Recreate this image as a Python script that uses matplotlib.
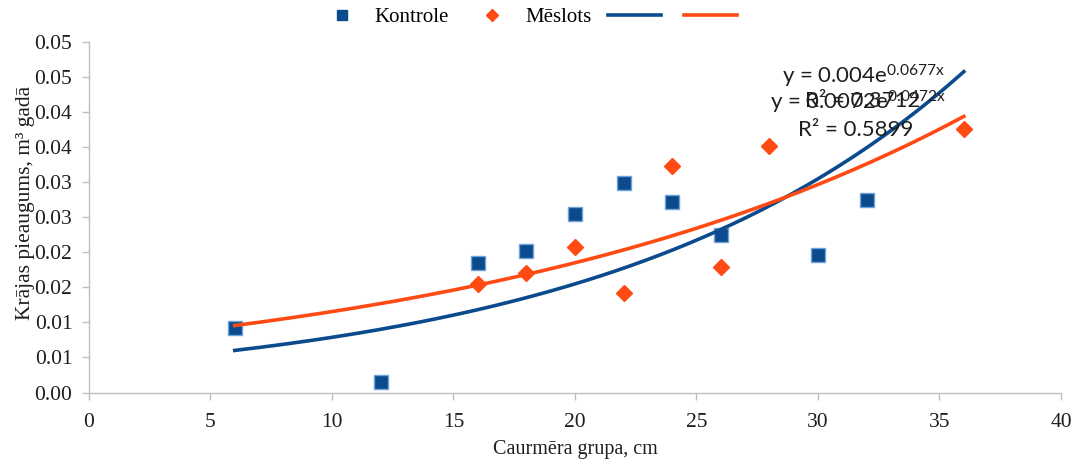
import numpy as np
import matplotlib
matplotlib.use("Agg")
import matplotlib.pyplot as plt
from matplotlib.lines import Line2D

# data
kontrole_x = [6, 12, 16, 18, 20, 22, 24, 26, 30, 32]
kontrole_y = [0.0092, 0.0015, 0.0185, 0.0202, 0.0254, 0.0299, 0.0272, 0.0224, 0.0196, 0.0274]
meslots_x = [16, 18, 20, 22, 24, 26, 28, 36]
meslots_y = [0.0155, 0.0170, 0.0207, 0.0142, 0.0323, 0.0179, 0.0352, 0.0376]

# exponential trendlines y = a * exp(b * x)
trend_kontrole = (0.004, 0.0677)
trend_meslots = (0.0072, 0.0472)
trend_range = (6, 36)

x_ticks = [0, 5, 10, 15, 20, 25, 30, 35, 40]
y_ticks = [0.0, 0.005, 0.01, 0.015, 0.02, 0.025, 0.03, 0.035, 0.04, 0.045, 0.05]
y_tick_labels = ["0.00", "0.01", "0.01", "0.02", "0.02", "0.03",
                 "0.03", "0.04", "0.04", "0.05", "0.05"]

blue = "#0B4A8C"
blue_edge = "#6FA3DA"
red = "#FF4A14"
axis_grey = "#BFBFBF"
text_col = "#1E1E1E"
serif = "Liberation Serif"
sans = "Lato"

plt.rcParams["mathtext.default"] = "regular"

fig = plt.figure(figsize=(10.8, 4.66), dpi=100)
ax = fig.add_axes([0.0824, 0.1577, 0.9, 0.7522])

ax.plot(kontrole_x, kontrole_y, linestyle="none", marker="s", markersize=9.5,
        markerfacecolor=blue, markeredgecolor=blue_edge, markeredgewidth=1.0, zorder=3)
ax.plot(meslots_x, meslots_y, linestyle="none", marker="D", markersize=8,
        markerfacecolor=red, markeredgecolor=red, zorder=3)

xs = np.linspace(trend_range[0], trend_range[1], 200)
a, b = trend_kontrole
ax.plot(xs, a * np.exp(b * xs), color=blue, linewidth=2.6, zorder=4)
a, b = trend_meslots
ax.plot(xs, a * np.exp(b * xs), color=red, linewidth=2.6, zorder=4)

# trendline equations (they overlap in the original too)
eq_kw = dict(fontsize=16, family=sans, color=text_col, va="center", ha="left", zorder=5)
ax.text(28.52, 0.0451, "y = 0.004e$^{0.0677x}$", **eq_kw)
ax.text(29.47, 0.0416, "R² = 0.3712", **eq_kw)
ax.text(28.02, 0.0414, "y = 0.0072e$^{0.0472x}$", **eq_kw)
ax.text(29.18, 0.0375, "R² = 0.5899", **eq_kw)

ax.set_xlim(0, 40)
ax.set_ylim(0, 0.05)
ax.set_xticks(x_ticks)
ax.set_xticklabels([str(t) for t in x_ticks], family=serif, fontsize=15.5, color=text_col)
ax.set_yticks(y_ticks)
ax.set_yticklabels(y_tick_labels, family=serif, fontsize=15.5, color=text_col)
ax.tick_params(axis="both", direction="out", length=5, color=axis_grey, width=1)
ax.tick_params(axis="x", pad=10)
ax.tick_params(axis="y", pad=7)

for side in ["top", "right"]:
    ax.spines[side].set_visible(False)
for side in ["left", "bottom"]:
    ax.spines[side].set_color(axis_grey)
    ax.spines[side].set_linewidth(1)

ax.set_xlabel("Caurmēra grupa, cm", family=serif, fontsize=14.5, color=text_col)
ax.xaxis.set_label_coords(0.5, -0.136)
ax.set_ylabel("Krājas pieaugums, m³ gadā", family=serif, fontsize=15.5, color=text_col)
ax.yaxis.set_label_coords(-0.056, 0.54)

handles = [
    Line2D([], [], linestyle="none", marker="s", markersize=7.5, markerfacecolor=blue,
           markeredgecolor=blue),
    Line2D([], [], linestyle="none", marker="D", markersize=6.5, markerfacecolor=red,
           markeredgecolor=red),
    Line2D([], [], color=blue, linewidth=2.6),
    Line2D([], [], color=red, linewidth=2.6),
]
fig.legend(handles, ["Kontrole", "Mēslots", "", ""], loc="center",
           bbox_to_anchor=(0.49, 0.962), ncol=4, frameon=False,
           prop={"family": serif, "size": 15}, handlelength=2.55,
           columnspacing=0.8, handletextpad=0.3)

fig.savefig("out.png", dpi=100)
